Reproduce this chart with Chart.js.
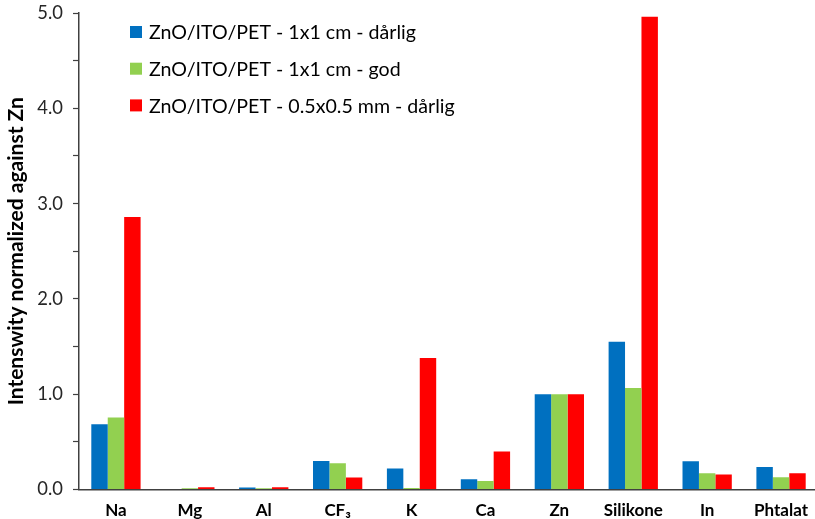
<!DOCTYPE html>
<html>
<head>
<meta charset="utf-8">
<script src="https://cdn.jsdelivr.net/npm/chart.js@4.4.1/dist/chart.umd.min.js"></script>
<style>
  html, body { margin: 0; padding: 0; background: #fff; overflow: hidden; }
  #wrap { width: 820px; height: 519px; }
</style>
</head>
<body>
<div id="wrap"><canvas id="c" width="820" height="519"></canvas></div>
<script>
// Elements measured by ToF-SIMS, intensities normalized against Zn
const categories = ['Na', 'Mg', 'Al', 'CF\u2083', 'K', 'Ca', 'Zn', 'Silikone', 'In', 'Phtalat'];
const seriesNames = [
  'ZnO/ITO/PET - 1x1 cm - dårlig',
  'ZnO/ITO/PET - 1x1 cm - god',
  'ZnO/ITO/PET - 0.5x0.5 mm - dårlig'
];
const big1x1Bad  = [0.685, 0.0,   0.02,  0.30,  0.22,  0.108, 1.0, 1.55,  0.297, 0.237];
const big1x1Good = [0.755, 0.014, 0.013, 0.276, 0.017, 0.09,  1.0, 1.066, 0.171, 0.129];
const smallBad   = [2.86,  0.024, 0.024, 0.126, 1.38,  0.40,  1.0, 4.96,  0.157, 0.171];
const yTickValues = [0, 1, 2, 3, 4, 5];
const seriesColors = ['#0070C0', '#92D050', '#FF0000'];

const FONT = 'Lato, "Open Sans", sans-serif';
const AXIS = '#404040';

// Legend drawn inside the plot area, top-left
const innerLegend = {
  id: 'innerLegend',
  afterDraw(chart) {
    const ctx = chart.ctx;
    ctx.save();
    ctx.font = '19.6px ' + FONT;
    ctx.textBaseline = 'middle';
    chart.data.datasets.forEach((ds, i) => {
      const y = 32 + i * 36.7;
      ctx.fillStyle = ds.backgroundColor;
      ctx.fillRect(130, y - 6, 12, 12);
      ctx.fillStyle = '#000';
      ctx.fillText(ds.label, 149, y + 1);
    });
    ctx.restore();
  }
};

new Chart(document.getElementById('c'), {
  type: 'bar',
  data: {
    labels: categories,
    datasets: [
      { label: seriesNames[0], data: big1x1Bad,  backgroundColor: seriesColors[0] },
      { label: seriesNames[1], data: big1x1Good, backgroundColor: seriesColors[1] },
      { label: seriesNames[2], data: smallBad,   backgroundColor: seriesColors[2] }
    ]
  },
  options: {
    responsive: false,
    animation: false,
    layout: { padding: { top: 13, right: 2, left: 0, bottom: 0 } },
    datasets: { bar: { categoryPercentage: 0.667, barPercentage: 1.0, borderWidth: 0 } },
    plugins: { legend: { display: false }, tooltip: { enabled: false } },
    scales: {
      x: {
        grid: { display: true, drawOnChartArea: false, drawTicks: false },
        border: { display: true, color: AXIS, width: 1.5 },
        ticks: { font: { family: FONT, size: 17, weight: 'bold' }, color: '#000', padding: 11, maxRotation: 0, autoSkip: false },
        afterFit(scale) { scale.height = 29.5; }
      },
      y: {
        min: 0,
        max: 5,
        afterBuildTicks(scale) {
          // major ticks from the label list, minor tick marks halfway between
          const t = [];
          yTickValues.forEach((v, i) => {
            t.push({ value: v });
            if (i < yTickValues.length - 1) t.push({ value: v + 0.5 });
          });
          scale.ticks = t;
        },
        ticks: {
          font: { family: FONT, size: 18.4 },
          color: '#262626',
          padding: 10,
          callback: (v) => (yTickValues.includes(v) ? Number(v).toFixed(1) : '')
        },
        grid: { display: true, drawOnChartArea: false, drawTicks: true, tickLength: 6, color: AXIS, tickWidth: 1.2 },
        border: { display: true, color: AXIS, width: 1.5 },
        title: {
          display: true,
          text: 'Intenswity normalized against Zn',
          font: { family: FONT, size: 21, weight: 'bold' },
          color: '#000',
          padding: { top: 4, bottom: 0 }
        },
        afterFit(scale) {
          scale.width = 79;
          // let the top label overhang the plot instead of shrinking it
          scale.paddingTop = 0;
          scale.paddingBottom = 0;
        }
      }
    }
  },
  plugins: [innerLegend]
});
</script>
</body>
</html>
